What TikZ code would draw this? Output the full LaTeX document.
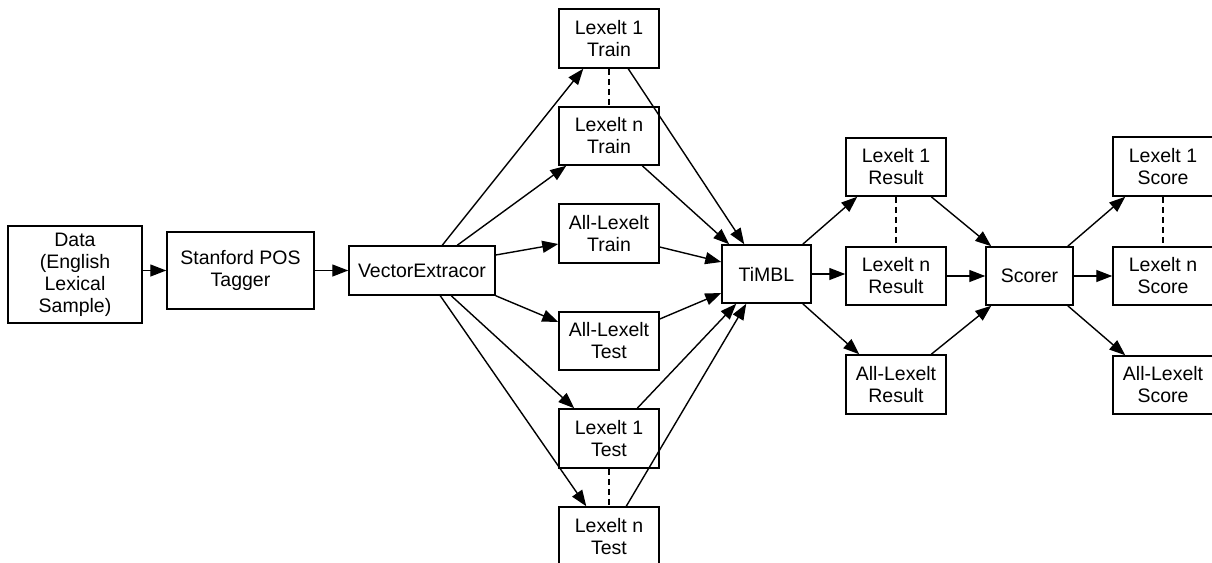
\documentclass[tikz,border=0pt]{standalone}
\usepackage{fontspec}
\setmainfont{Liberation Sans}
\usetikzlibrary{arrows.meta}
\tikzset{
  box/.style={draw, line width=1.5pt, align=center, inner sep=0pt,
    font=\fontsize{19.5}{22}\selectfont},
  arr/.style={line width=1.4pt, -{Triangle[length=16pt,width=12pt]}},
  elide/.style={line width=1.4pt, dash pattern=on 6pt off 4pt},
}
\begin{document}
\begin{tikzpicture}[x=1pt, y=-1pt]
\useasboundingbox (0,0) rectangle (1212,562);
% pipeline front end
\node[box, minimum width=134pt, minimum height=97pt] (data) at (75,274.5) {Data\\(English\\Lexical\\Sample)};
\node[box, minimum width=147pt, minimum height=77pt] (stanford) at (240.5,270.5) {Stanford POS\\Tagger};
\node[box, minimum width=146pt, minimum height=49pt] (vec) at (422,270.5) {VectorExtracor};
% training and test sets
\node[box, minimum width=100pt, minimum height=59pt] (train1) at (609,38.5) {Lexelt 1\\Train};
\node[box, minimum width=100pt, minimum height=58pt] (trainN) at (609,136) {Lexelt n\\Train};
\node[box, minimum width=100pt, minimum height=59pt] (trainAll) at (609,233.5) {All-Lexelt\\Train};
\node[box, minimum width=100pt, minimum height=58pt] (testAll) at (609,341) {All-Lexelt\\Test};
\node[box, minimum width=100pt, minimum height=59pt] (test1) at (609,438.5) {Lexelt 1\\Test};
\node[box, minimum width=100pt, minimum height=59pt] (testN) at (609,536.5) {Lexelt n\\Test};
% classifier and results
\node[box, minimum width=89pt, minimum height=58pt] (timbl) at (766.5,274) {TiMBL};
\node[box, minimum width=100pt, minimum height=58pt] (result1) at (896,167) {Lexelt 1\\Result};
\node[box, minimum width=100pt, minimum height=58pt] (resultN) at (896,276) {Lexelt n\\Result};
\node[box, minimum width=100pt, minimum height=59pt] (resultAll) at (896,384.5) {All-Lexelt\\Result};
\node[box, minimum width=87pt, minimum height=58pt] (scorer) at (1029.5,276) {Scorer};
\node[box, minimum width=100pt, minimum height=59pt] (score1) at (1163,166.5) {Lexelt 1\\Score};
\node[box, minimum width=100pt, minimum height=58pt] (scoreN) at (1163,276) {Lexelt n\\Score};
\node[box, minimum width=100pt, minimum height=58pt] (scoreAll) at (1163,385) {All-Lexelt\\Score};

% front end arrows
\draw[arr] (data.east|-stanford.west) -- (stanford.west);
\draw[arr] (stanford.east) -- (vec.west);
% feature extractor to data sets
\draw[arr] ([xshift=94pt]vec.north west) -- ([xshift=25pt]train1.south west);
\draw[arr] ([xshift=109pt]vec.north west) -- ([xshift=8pt]trainN.south west);
\draw[arr] ([yshift=15.5pt]vec.east) -- ([yshift=-10.5pt]trainAll.west);
\draw[arr] (vec.south east) -- ([yshift=19pt]testAll.west);
\draw[arr] ([xshift=103pt]vec.south west) -- ([xshift=16pt]test1.north west);
\draw[arr] ([xshift=92pt]vec.south west) -- ([xshift=28pt]testN.north west);
% data sets to classifier
\draw[arr] ([xshift=70pt]train1.south west) -- ([xshift=23pt]timbl.north west);
\draw[arr] ([xshift=84pt]trainN.south west) -- ([xshift=8pt]timbl.north west);
\draw[arr] ([yshift=-13.5pt]trainAll.east) -- ([yshift=12pt]timbl.west);
\draw[arr] ([yshift=22pt]testAll.east) -- ([yshift=-19pt]timbl.west);
\draw[arr] ([xshift=79pt]test1.north west) -- ([xshift=15pt]timbl.south west);
\draw[arr] ([xshift=68pt]testN.north west) -- ([xshift=25pt]timbl.south west);
% elided items
\draw[elide] (train1.south) -- (trainN.north);
\draw[elide] (test1.south) -- (testN.north);
\draw[elide] (result1.south) -- (resultN.north);
\draw[elide] (score1.south) -- (scoreN.north);
% classifier to results
\draw[arr] ([xshift=-9pt]timbl.north east) -- ([xshift=12pt]result1.south west);
\draw[arr] (timbl.east) -- (timbl.east-|resultN.west);
\draw[arr] ([xshift=-9pt]timbl.south east) -- ([xshift=14pt]resultAll.north west);
% results to scorer
\draw[arr] ([xshift=86pt]result1.south west) -- ([xshift=6pt]scorer.north west);
\draw[arr] (resultN.east) -- (scorer.west);
\draw[arr] ([xshift=86pt]resultAll.north west) -- ([xshift=6pt]scorer.south west);
% scorer to scores
\draw[arr] ([xshift=-6pt]scorer.north east) -- ([xshift=13pt]score1.south west);
\draw[arr] (scorer.east) -- (scoreN.west);
\draw[arr] ([xshift=-6pt]scorer.south east) -- ([xshift=13pt]scoreAll.north west);
\end{tikzpicture}
\end{document}
